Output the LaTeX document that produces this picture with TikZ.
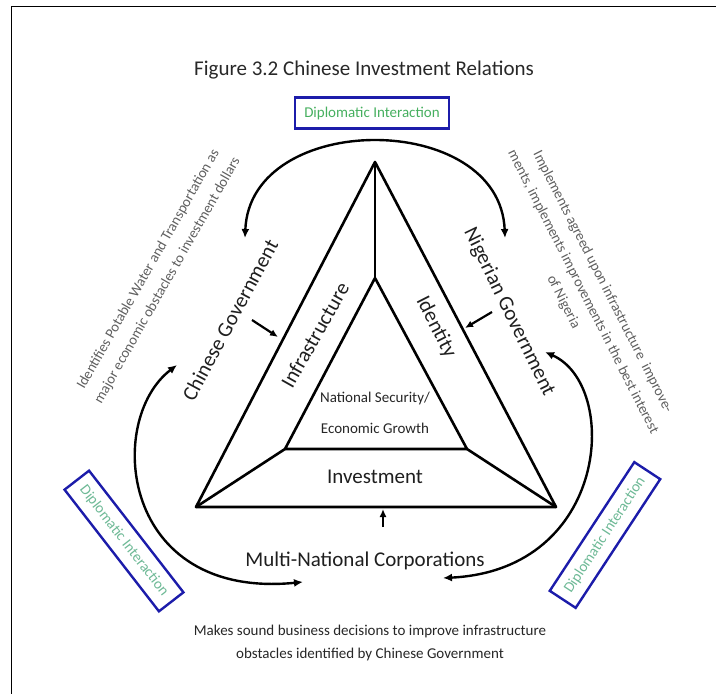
\documentclass[tikz,border=0pt]{standalone}
\usepackage{fontspec}
\setmainfont{Carlito}
\usetikzlibrary{arrows.meta}
\definecolor{boxblue}{RGB}{28,28,170}
\definecolor{diplgreen}{RGB}{70,175,95}
\definecolor{diplgreentwo}{RGB}{110,185,150}
\definecolor{notegray}{RGB}{95,95,95}
\definecolor{titlegray}{RGB}{40,40,40}
\begin{document}
\begin{tikzpicture}[x=1pt,y=-1pt,
  tri/.style={line width=2.6pt, line join=round, line cap=round},
  arcarrow/.style={line width=2.4pt, {Latex[length=9pt,width=8pt]}-{Latex[length=9pt,width=8pt]}},
  push/.style={line width=2.2pt, -{Latex[length=8pt,width=7pt]}},
  dipl/.style={draw=boxblue, line width=2.4pt, text=diplgreen, font=\fontsize{15}{18}\selectfont, minimum width=154pt, minimum height=31pt, inner sep=0pt},
  big/.style={font=\fontsize{21}{25}\selectfont, text=black!88},
  mid/.style={font=\fontsize{15}{18}\selectfont, text=black!85},
  note/.style={font=\fontsize{14.5}{22}\selectfont, text=notegray, align=center},
]
\useasboundingbox (0,0) rectangle (716,694);
% frame
\draw[line width=1pt] (11,694) -- (11,6) -- (716,6);

% title
\node[font=\fontsize{21}{25}\selectfont, text=titlegray] (title) at (364,70) {Figure 3.2 Chinese Investment Relations};

% diplomatic boxes
\node[dipl] (d1) at (372,113) {Diplomatic Interaction};
\node[dipl, text=diplgreentwo, rotate=-52.2] (d2) at (124,541) {Diplomatic Interaction};
\node[dipl, text=diplgreentwo, rotate=56.7] (d3) at (605,535) {Diplomatic Interaction};

% triangles
\coordinate (o1) at (375,162);
\coordinate (o2) at (196,507);
\coordinate (o3) at (556,507);
\coordinate (i1) at (375,278);
\coordinate (i2) at (285,449);
\coordinate (i3) at (467,449);
\draw[tri] (o1) -- (o2) -- (o3) -- cycle;
\draw[tri] (i1) -- (i2) -- (i3) -- cycle;
\draw[tri] (o1) -- (i1);
\draw[tri] (o2) -- (i2);
\draw[tri] (o3) -- (i3);

% labels
\node[big, rotate=61.7] (cg) at (230,320) {Chinese Government};
\node[big, rotate=-64] (ng) at (509,312) {Nigerian Government};
\node[big, rotate=60.5] (inf) at (315,335) {Infrastructure};
\node[big, rotate=-63] (idt) at (436,327) {Identity};
\node[mid] (ns) at (375,398) {National Security/};
\node[mid] (eg) at (375,428) {Economic Growth};
\node[big] (inv) at (375,477) {Investment};
\node[big] (mnc) at (365,561) {Multi-National Corporations};
\node[mid, align=center, font=\fontsize{15}{23}\selectfont] (mk) at (370,643) {Makes sound business decisions to improve infrastructure\\obstacles identified by Chinese Government};

\node[note, rotate=60.3] (ln) at (158,275) {Identifies Potable Water and Transportation as\\major economic obstacles to investment dollars};
\node[note, rotate=-63] (rn) at (583,292) {Implements agreed upon infrastructure\ \ improve-\\ments, implements improvements in the best interest\\of Nigeria};

% big arcs
\coordinate (a1) at (245,238);
\coordinate (a2) at (505,238);
\draw[arcarrow] (a1) .. controls (250,110) and (500,110) .. (a2);
\coordinate (b1) at (177,365);
\coordinate (b2) at (303,582);
\draw[arcarrow] (b1) .. controls (105,420) and (120,600) .. (b2);
\coordinate (c1) at (545,352);
\coordinate (c2) at (443,578);
\draw[arcarrow] (c1) .. controls (620,385) and (610,570) .. (c2);

% push arrows
\coordinate (p1s) at (252,320);
\coordinate (p1e) at (278,337);
\draw[push] (p1s) -- (p1e);
\coordinate (p2s) at (492,312);
\coordinate (p2e) at (465,328);
\draw[push] (p2s) -- (p2e);
\coordinate (p3s) at (383,527);
\coordinate (p3e) at (383,509);
\draw[push] (p3s) -- (p3e);
\end{tikzpicture}
\end{document}
